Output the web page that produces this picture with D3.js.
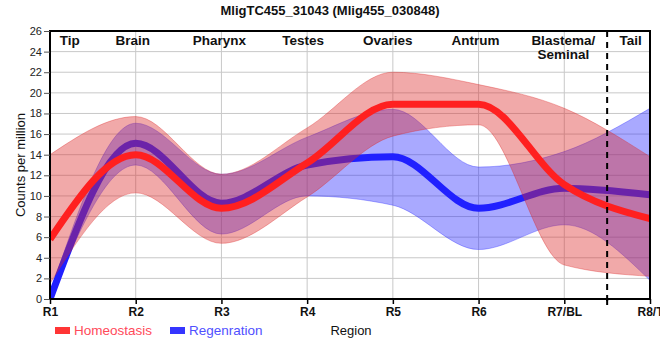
<!DOCTYPE html>
<html>
<head>
<meta charset="utf-8">
<script src="https://cdn.jsdelivr.net/npm/d3@7"></script>
<style>
  html, body { margin: 0; padding: 0; background: #fff; }
  svg { display: block; font-family: "Liberation Sans", Arial, sans-serif; }
</style>
</head>
<body>
<svg id="chart" width="660" height="360"></svg>
<script>
const title = "MligTC455_31043 (Mlig455_030848)";
const regions = ["R1", "R2", "R3", "R4", "R5", "R6", "R7/BL", "R8/T"];
const regionNames = ["Tip", "Brain", "Pharynx", "Testes", "Ovaries", "Antrum", "Blastema/\nSeminal", "Tail"];
const yTicks = [0, 2, 4, 6, 8, 10, 12, 14, 16, 18, 20, 22, 24, 26];
const homeoMean  = [5.8, 14.0, 8.8, 13.2, 18.9, 18.9, 11.1, 7.8];
const homeoUpper = [14.0, 17.7, 12.1, 16.6, 22.0, 20.8, 18.5, 13.8];
const homeoLower = [1.5, 10.3, 5.4, 9.9, 15.8, 16.9, 3.3, 2.2];
const regenMean  = [0.0, 15.1, 9.3, 13.0, 13.8, 8.8, 10.75, 10.1];
const regenUpper = [0.5, 17.05, 12.1, 15.7, 18.4, 12.8, 14.3, 18.5];
const regenLower = [0.0, 13.0, 6.3, 10.0, 9.1, 4.8, 7.2, 1.8];
const seriesNames = ["Homeostasis", "Regenration"];

const svg = d3.select("#chart");
const m = { left: 50, right: 10, top: 31, bottom: 61 };
const W = 660, H = 360;
const x = d3.scaleLinear().domain([0, regions.length - 1]).range([m.left, W - m.right]);
const y = d3.scaleLinear().domain([0, 26]).range([H - m.bottom, m.top]);

// clip
svg.append("defs").append("clipPath").attr("id", "clip")
  .append("rect").attr("x", x(0)).attr("y", y(26)).attr("width", x(7) - x(0)).attr("height", y(0) - y(26));

// grid
const grid = svg.append("g");
grid.selectAll("line.h").data(yTicks).join("line")
  .attr("x1", x(0)).attr("x2", x(7)).attr("y1", d => y(d)).attr("y2", d => y(d))
  .attr("stroke", "#c8c8c8").attr("stroke-width", 1);
grid.selectAll("line.v").data(regions.map((d, i) => i)).join("line")
  .attr("x1", d => x(d)).attr("x2", d => x(d)).attr("y1", y(0)).attr("y2", y(26))
  .attr("stroke", "#c8c8c8").attr("stroke-width", 1);

const curve = d3.curveMonotoneX;
const idx = regions.map((d, i) => i);
const area = (lo, hi) => d3.area().curve(curve).x(i => x(i)).y0(i => y(lo[i])).y1(i => y(hi[i]));
const line = (v) => d3.line().curve(curve).x(i => x(i)).y(i => y(v[i]));

const plot = svg.append("g").attr("clip-path", "url(#clip)");
// blue band, blue line, red band, red line
plot.append("path").attr("d", area(regenLower, regenUpper)(idx))
  .attr("fill", "rgb(40,40,255)").attr("fill-opacity", 0.4)
  .attr("stroke", "rgb(40,40,255)").attr("stroke-opacity", 0.35).attr("stroke-width", 1);
plot.append("path").attr("d", line(regenMean)(idx))
  .attr("fill", "none").attr("stroke", "#2020ff").attr("stroke-width", 7);
plot.append("path").attr("d", area(homeoLower, homeoUpper)(idx))
  .attr("fill", "rgb(220,40,40)").attr("fill-opacity", 0.4)
  .attr("stroke", "rgb(220,40,40)").attr("stroke-opacity", 0.35).attr("stroke-width", 1);
plot.append("path").attr("d", line(homeoMean)(idx))
  .attr("fill", "none").attr("stroke", "#ff2020").attr("stroke-width", 7);

// dashed separator between R7 and R8
svg.append("line").attr("x1", x(6.5)).attr("x2", x(6.5)).attr("y1", y(26)).attr("y2", y(0) + 5)
  .attr("stroke", "#000").attr("stroke-width", 2).attr("stroke-dasharray", "6,5");

// frame
svg.append("rect").attr("x", x(0)).attr("y", y(26)).attr("width", x(7) - x(0)).attr("height", y(0) - y(26))
  .attr("fill", "none").attr("stroke", "#000").attr("stroke-width", 2);

// y axis
const yAxis = svg.append("g").attr("transform", `translate(${x(0)},0)`)
  .call(d3.axisLeft(y).tickValues(yTicks).tickSize(6).tickPadding(2));
yAxis.select(".domain").remove();
yAxis.selectAll("text").attr("font-size", 11).attr("fill", "#222").attr("font-family", "Liberation Sans, Arial, sans-serif");
yAxis.selectAll("line").attr("stroke", "#555");

// x axis
const xAxis = svg.append("g").attr("transform", `translate(0,${y(0)})`)
  .call(d3.axisBottom(x).tickValues(idx).tickFormat(i => regions[i]).tickSize(5).tickPadding(3));
xAxis.select(".domain").remove();
xAxis.selectAll("text").attr("font-size", 12).attr("font-weight", "bold").attr("fill", "#111")
  .attr("font-family", "Liberation Sans, Arial, sans-serif");
xAxis.selectAll("line").attr("stroke", "#000").attr("stroke-width", 1.5);
svg.append("line").attr("x1", x(6.5)).attr("x2", x(6.5)).attr("y1", y(0)).attr("y2", y(0) + 6)
  .attr("stroke", "#000").attr("stroke-width", 2);

// region names
const nameX = [x(0.23), x(1) - 3, x(2) - 2, x(3) - 4, x(4) - 5, x(5) - 3, x(6) - 1, (x(6.5) + x(7)) / 2 + 2];
regionNames.forEach((nm, i) => {
  const t = svg.append("text").attr("x", nameX[i]).attr("y", 45)
    .attr("text-anchor", "middle").attr("font-size", 13.5).attr("font-weight", "bold").attr("fill", "#111");
  nm.split("\n").forEach((part, j) => {
    t.append("tspan").attr("x", nameX[i]).attr("dy", j === 0 ? 0 : 14).text(part);
  });
});

// title
svg.append("text").attr("x", 330).attr("y", 15).attr("text-anchor", "middle")
  .attr("font-size", 13).attr("font-weight", "bold").attr("fill", "#111").text(title);

// y title
svg.append("text").attr("transform", `translate(25,${(y(0) + y(26)) / 2}) rotate(-90)`)
  .attr("text-anchor", "middle").attr("font-size", 13).attr("fill", "#111").text("Counts per million");

// x title
svg.append("text").attr("x", (x(0) + x(7)) / 2 + 1).attr("y", 335).attr("text-anchor", "middle")
  .attr("font-size", 13).attr("fill", "#111").text("Region");

// legend
const legColors = ["#ff3535", "#3535ff"];
const legText = ["#ff4a5a", "#5050ff"];
const legX = [55, 170];
seriesNames.forEach((s, i) => {
  svg.append("rect").attr("x", legX[i]).attr("y", 327).attr("width", 15).attr("height", 7).attr("fill", legColors[i]);
  svg.append("text").attr("x", legX[i] + 19).attr("y", 335).attr("font-size", 13.5)
    .attr("fill", legText[i]).text(s);
});
</script>
</body>
</html>
